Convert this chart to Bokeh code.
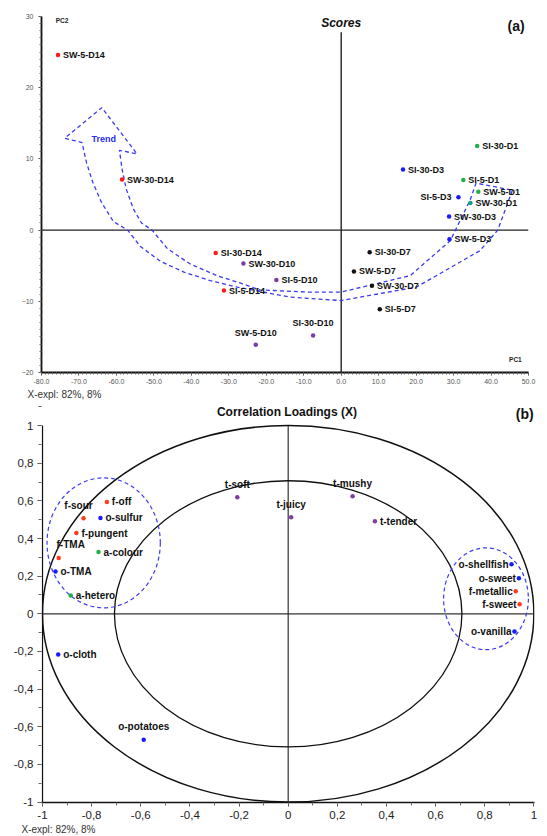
import numpy as np
from bokeh.plotting import figure
from bokeh.layouts import column
from bokeh.models import Label, Title, SingleIntervalTicker, CustomJSTickFormatter
from bokeh.core.properties import value
from bokeh.embed import file_html
from bokeh.resources import INLINE

# ---------------- Panel (a): Scores ----------------
score_names = ["SW-5-D14", "SW-30-D14", "SI-30-D14", "SI-5-D14",
               "SW-30-D10", "SI-5-D10", "SW-5-D10", "SI-30-D10",
               "SI-30-D7", "SW-5-D7", "SW-30-D7", "SI-5-D7",
               "SW-5-D3", "SW-30-D3", "SI-5-D3", "SI-30-D3",
               "SW-30-D1", "SW-5-D1", "SI-5-D1", "SI-30-D1"]
score_pc1 = [-75.6, -58.5, -33.5, -31.3,
             -26.1, -17.3, -22.8, -7.5,
             7.6, 3.4, 8.2, 10.3,
             28.9, 28.8, 31.3, 16.5,
             34.5, 36.6, 32.6, 36.3]
score_pc2 = [24.6, 7.1, -3.2, -8.5,
             -4.7, -7.0, -16.1, -14.8,
             -3.1, -5.8, -7.8, -11.1,
             -1.3, 1.9, 4.6, 8.5,
             3.8, 5.4, 7.05, 11.8]
score_day = ["D14", "D14", "D14", "D14",
             "D10", "D10", "D10", "D10",
             "D7", "D7", "D7", "D7",
             "D3", "D3", "D3", "D3",
             "D1", "D1", "D1", "D1"]

# trend arrow outline: outer edge, head, inner edge, tail
trend_x = [45.7, 41.8, 37.0, 20.1, 0.0, -13.8, -21.8, -27.8, -34.9, -42.0, -48.2, -53.6, -57.0,
           -60.8, -64.0, -66.3, -68.0, -69.2,
           -73.8, -63.9, -54.5,
           -59.2, -58.5, -57.4, -55.5, -53.3, -50.5, -46.4, -40.2, -33.1, -26.0, -21.8, -9.1,
           0.0, 18.4, 29.1, 34.4, 36.0, 45.7]
trend_y = [5.6, 0.0, -2.9, -8.0, -9.9, -9.4, -8.6, -8.0, -7.1, -5.9, -4.4, -2.3, 0.0,
           1.2, 3.9, 6.7, 9.5, 12.3,
           12.9, 17.2, 10.7,
           11.2, 8.6, 5.8, 3.0, 1.0, 0.0, -2.6, -4.8, -6.4, -7.6, -8.4, -8.7,
           -8.7, -6.4, -1.5, 4.2, 6.6, 5.6]

a_xlim = (-80, 50)
a_ylim = (-20, 30)

# ---------------- Panel (b): Correlation loadings ----------------
load_names = ["f-off", "f-sour", "o-sulfur", "f-pungent", "f-TMA", "a-colour", "o-TMA", "a-hetero",
              "t-soft", "t-juicy", "t-mushy", "t-tender",
              "o-shellfish", "o-sweet", "f-metallic", "f-sweet", "o-vanilla",
              "o-cloth", "o-potatoes"]
load_x = [-0.738, -0.833, -0.764, -0.862, -0.934, -0.772, -0.947, -0.885,
          -0.207, 0.012, 0.262, 0.353,
          0.909, 0.939, 0.926, 0.942, 0.921,
          -0.936, -0.588]
load_y = [0.594, 0.507, 0.509, 0.429, 0.296, 0.328, 0.225, 0.097,
          0.619, 0.513, 0.625, 0.492,
          0.263, 0.189, 0.120, 0.051, -0.094,
          -0.216, -0.669]

circle_radii = [1.0, 0.7071]
# dashed cluster ellipses: centre x, centre y, width, height
cluster_cx = [-0.751, 0.805]
cluster_cy = [0.377, 0.080]
cluster_w = [0.461, 0.345]
cluster_h = [0.690, 0.541]

FONT = "Liberation Sans"

# ===== styles =====
day_colors = {"D14": "#ff1a1a", "D10": "#7b3aa6", "D7": "#111111", "D3": "#1a1aff", "D1": "#22b04b"}
special_color = {"SW-30-D1": "#169c8a"}
a_place = {"SW-5-D10": "above", "SI-30-D10": "above", "SI-5-D3": "left"}

prefix_colors = {"f": "#ff3b1f", "o": "#1a1aff", "a": "#22b04b", "t": "#7f3fa0"}
b_place = {"f-sour": "above_left", "f-TMA": "above_right", "t-soft": "above", "t-juicy": "above",
           "t-mushy": "above", "o-potatoes": "above",
           "o-shellfish": "left", "o-sweet": "left", "f-metallic": "left", "f-sweet": "left",
           "o-vanilla": "left"}


def style_axes(p, tick_font_size, tick_color, line_w):
    for ax in (p.xaxis[0], p.yaxis[0]):
        ax.axis_line_color = "#111111"
        ax.axis_line_width = line_w
        ax.major_tick_line_color = "#444444"
        ax.minor_tick_line_color = "#666666"
        ax.major_label_text_font = FONT
        ax.major_label_text_font_size = tick_font_size
        ax.major_label_text_color = tick_color


# ===== Panel (a) =====
pa = figure(width=540, height=403, x_range=a_xlim, y_range=a_ylim,
            output_backend="svg", toolbar_location=None,
            min_border_left=41, min_border_right=12, min_border_top=16, min_border_bottom=31)
pa.grid.visible = False
pa.outline_line_color = None
pa.xaxis.ticker = SingleIntervalTicker(interval=10, num_minor_ticks=10)
pa.yaxis.ticker = SingleIntervalTicker(interval=10, num_minor_ticks=10)
pa.xaxis.formatter = CustomJSTickFormatter(code="return tick.toFixed(1);")
style_axes(pa, "7px", "#555555", 1.8)
for ax in (pa.xaxis[0], pa.yaxis[0]):
    ax.major_tick_out = 3
    ax.major_tick_in = 0
    ax.minor_tick_out = 2
    ax.minor_tick_in = 0
pa.xaxis.major_label_standoff = 3
pa.yaxis.major_label_standoff = 5

# zero lines
pa.segment(x0=[a_xlim[0], 0], y0=[0, a_ylim[0]], x1=[a_xlim[1], 0], y1=[0, 27.8],
           line_color="#222222", line_width=1.4)

# trend arrow
pa.line(trend_x, trend_y, line_color="#3a3af0", line_width=1.3, line_dash="4 3")

cols_a = [special_color.get(n, day_colors[d]) for n, d in zip(score_names, score_day)]
pa.scatter(score_pc1, score_pc2, size=4.5, color=cols_a, line_width=0)

groups = {"right": [], "above": [], "left": []}
for i, n in enumerate(score_names):
    groups[a_place.get(n, "right")].append(i)
specs_a = {"right": dict(text_align="left", text_baseline="middle", x_offset=5, y_offset=0),
           "left": dict(text_align="right", text_baseline="middle", x_offset=-7, y_offset=0),
           "above": dict(text_align="center", text_baseline="middle", x_offset=0, y_offset=-12)}
for g, idx in groups.items():
    if not idx:
        continue
    pa.text([score_pc1[i] for i in idx], [score_pc2[i] for i in idx],
            text=[score_names[i] for i in idx], text_font=value(FONT),
            text_font_size="9px", text_font_style="bold", text_color="#111111", **specs_a[g])

pa.add_layout(Label(x=-63.4, y=12.8, text="Trend", text_font=FONT, text_font_size="9px",
                    text_font_style="bold", text_color="#2a2ae8", text_align="center",
                    text_baseline="middle"))
pa.add_layout(Label(x=0, y=29.1, text="Scores", text_font=FONT, text_font_size="12px",
                    text_font_style="bold italic", text_color="#111111", text_align="center",
                    text_baseline="middle"))
pa.add_layout(Label(x=46.7, y=28.6, text="(a)", text_font=FONT, text_font_size="14px",
                    text_font_style="bold", text_color="#111111", text_align="center",
                    text_baseline="middle"))
pa.add_layout(Label(x=-74.5, y=29.5, text="PC2", text_font=FONT, text_font_size="6.5px",
                    text_font_style="bold", text_color="#222222", text_align="center",
                    text_baseline="middle"))
pa.add_layout(Label(x=46.5, y=-18.2, text="PC1", text_font=FONT, text_font_size="6.5px",
                    text_font_style="bold", text_color="#222222", text_align="center",
                    text_baseline="middle"))
pa.add_layout(Title(text="X-expl: 82%, 8%", align="left", offset=-14, standoff=0,
                    text_font=FONT, text_font_size="10px", text_font_style="normal",
                    text_color="#333333"), "below")

# ===== Panel (b) =====
b_xlim = (-1.004, 1.0025)
b_ylim = (-1.002, 1.117)
pb = figure(width=546, height=433, x_range=b_xlim, y_range=b_ylim,
            output_backend="svg", toolbar_location=None,
            min_border_left=36, min_border_right=3, min_border_top=0, min_border_bottom=34)
pb.grid.visible = False
pb.outline_line_color = None
pb.xaxis.ticker = SingleIntervalTicker(interval=0.2, num_minor_ticks=2)
pb.yaxis.ticker = SingleIntervalTicker(interval=0.2, num_minor_ticks=2)
fmt_code = """
const v = Math.round(tick*10)/10;
if (Math.abs(v) < 1e-9) return "0";
const s = Number.isInteger(v) ? v.toFixed(0) : v.toFixed(1);
return s.replace(".", ",");
"""
pb.xaxis.formatter = CustomJSTickFormatter(code=fmt_code)
pb.yaxis.formatter = CustomJSTickFormatter(code=fmt_code)
style_axes(pb, "11.5px", "#222222", 1.3)
pb.yaxis.axis_line_color = None
for ax in (pb.xaxis[0], pb.yaxis[0]):
    ax.major_tick_out = 4
    ax.major_tick_in = 0
    ax.minor_tick_out = 3
    ax.minor_tick_in = 0
    ax.major_label_standoff = 4

# left axis line (only from -1 to 1) and zero lines
pb.segment(x0=[-1, -1, 0], y0=[-1, 0, -1], x1=[-1, 1, 0], y1=[1, 0, 1],
           line_color=["#111111", "#333333", "#333333"], line_width=[1.3, 1.2, 1.2])

pb.ellipse(x=[0, 0], y=[0, 0], width=[2 * r for r in circle_radii],
           height=[2 * r for r in circle_radii], fill_color=None,
           line_color="#111111", line_width=[1.5, 1.3])
pb.ellipse(x=cluster_cx, y=cluster_cy, width=cluster_w, height=cluster_h, fill_color=None,
           line_color="#3a3af0", line_width=1.2, line_dash="4 3")

cols_b = [prefix_colors[n.split("-")[0]] for n in load_names]
pb.scatter(load_x, load_y, size=4.5, color=cols_b, line_width=0)

specs_b = {"right": dict(text_align="left", text_baseline="middle", x_offset=5, y_offset=0),
           "left": dict(text_align="right", text_baseline="middle", x_offset=-3, y_offset=0),
           "above": dict(text_align="center", text_baseline="middle", x_offset=0, y_offset=-13),
           "above_left": dict(text_align="center", text_baseline="middle", x_offset=-5, y_offset=-13),
           "above_right": dict(text_align="center", text_baseline="middle", x_offset=12, y_offset=-14)}
groups_b = {k: [] for k in specs_b}
for i, n in enumerate(load_names):
    groups_b[b_place.get(n, "right")].append(i)
for g, idx in groups_b.items():
    if not idx:
        continue
    pb.text([load_x[i] for i in idx], [load_y[i] for i in idx],
            text=[load_names[i] for i in idx], text_font=value(FONT),
            text_font_size="10px", text_font_style="bold", text_color="#111111", **specs_b[g])

pb.add_layout(Label(x=-0.005, y=1.074, text="Correlation Loadings (X)", text_font=FONT,
                    text_font_size="12px", text_font_style="bold", text_color="#111111",
                    text_align="center", text_baseline="middle"))
pb.add_layout(Label(x=0.999, y=1.062, text="(b)", text_font=FONT, text_font_size="14px",
                    text_font_style="bold", text_color="#111111", text_align="right",
                    text_baseline="middle"))
pb.add_layout(Title(text="X-expl: 82%, 8%", align="left", offset=-20, standoff=0,
                    text_font=FONT, text_font_size="10px", text_font_style="normal",
                    text_color="#333333"), "below")

layout = column(pa, pb, spacing=0)
open("out.html", "w").write(file_html(layout, INLINE))
